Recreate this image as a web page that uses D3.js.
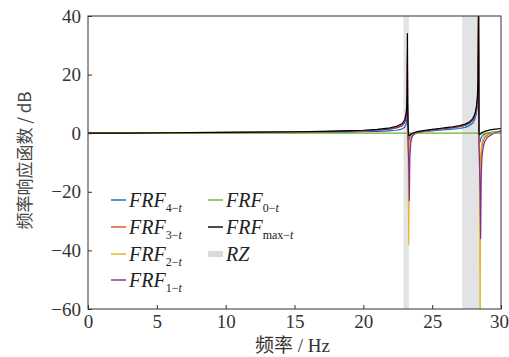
<!DOCTYPE html>
<html>
<head>
<meta charset="utf-8">
<script src="https://cdn.jsdelivr.net/npm/d3@7"></script>
<style>
  body { margin: 0; background: #fff; }
  svg { display: block; }
</style>
</head>
<body>
<svg id="chart"></svg>
<script>
// frequency samples (Hz)
var freq = [0, 3, 6, 9, 12, 15, 17, 19, 20, 21, 21.8, 22.4, 22.8, 23.0, 23.1, 23.15, 23.18, 23.2, 23.22, 23.26,
  23.3, 23.34, 23.38, 23.45, 23.55, 23.7, 24, 24.5, 25, 25.5, 26, 26.5, 27, 27.4, 27.7, 27.95, 28.1, 28.2,
  28.28, 28.33, 28.37, 28.4, 28.44, 28.48, 28.52, 28.56, 28.62, 28.7, 28.8, 29, 29.3, 29.6, 30];

// FRF values (dB)
var frf4 = [0, 0, 0.05, 0.1, 0.15, 0.2, 0.3, 0.4, 0.5, 0.6, 0.8, 1.0, 1.4, 2.0, 3.0, 4.5, 8, 20, 5, -1,
  -3, -2, -1.2, -0.6, -0.2, 0, 0.3, 0.6, 0.8, 1.0, 1.2, 1.4, 1.6, 2.0, 2.6, 3.5, 4.8, 6.5,
  9, 14, 30, -1, -3, -3, -2, -1.5, -1, -0.6, -0.3, 0, 0.3, 0.5, 0.7];
var frf3 = [0, 0.05, 0.1, 0.2, 0.3, 0.4, 0.55, 0.7, 0.85, 1.1, 1.4, 1.9, 2.7, 3.9, 5.5, 8, 12, 28, 6, -2,
  -6, -8, -4, -1.8, -0.8, -0.2, 0.3, 0.8, 1.1, 1.4, 1.6, 1.9, 2.2, 2.7, 3.4, 4.5, 6, 8,
  11, 16, 40, -2, -6, -10, -16, -8, -4.5, -2.8, -1.6, -0.7, 0, 0.4, 0.7];
var frf2 = [0, 0.05, 0.1, 0.2, 0.3, 0.4, 0.5, 0.65, 0.8, 1.0, 1.3, 1.8, 2.5, 3.6, 5, 7.5, 11, 25, 3, -8,
  -38, -6, -2.5, -1.2, -0.5, 0, 0.4, 0.8, 1.1, 1.4, 1.6, 1.9, 2.2, 2.7, 3.4, 4.5, 6, 8,
  11, 16, 40, -3, -12, -80, -12, -5, -3, -1.8, -1, -0.4, 0.1, 0.4, 0.7];
var frf1 = [0, 0.05, 0.1, 0.2, 0.3, 0.4, 0.5, 0.65, 0.8, 1.0, 1.3, 1.8, 2.5, 3.6, 5, 7.5, 11, 25, 2, -5,
  -10, -23, -8, -3, -1.2, -0.3, 0.3, 0.8, 1.1, 1.4, 1.6, 1.9, 2.2, 2.7, 3.4, 4.5, 6, 8,
  11, 16, 40, -4, -10, -20, -36, -15, -8, -5, -3, -1.5, -0.5, 0.2, 0.6];
var frf0 = [0, 0, 0, 0, 0, 0, 0, 0, 0, 0, 0, 0, 0, 0, 0, 0, 0, 0, 0, 0,
  0, 0, 0, 0, 0, 0, 0, 0, 0, 0, 0, 0, 0, 0, 0, 0, 0, 0,
  0, 0, 0, 0, 0, 0, 0, 0, 0, 0, 0, 0, 0, 0, 0];
var frfMax = [0, 0.05, 0.15, 0.25, 0.35, 0.5, 0.65, 0.85, 1.0, 1.3, 1.7, 2.3, 3.2, 4.5, 6.5, 9, 14, 34, 10, 2,
  -0.8, -0.8, -0.6, -0.4, -0.1, 0.2, 0.6, 1.0, 1.3, 1.6, 1.9, 2.2, 2.6, 3.1, 3.8, 5.0, 6.5, 8.5,
  12, 18, 50, 0, -0.5, -0.4, -0.2, 0, 0.2, 0.4, 0.6, 0.9, 1.2, 1.4, 1.6];

// resonance zones (Hz)
var rzStart = [22.92, 27.18];
var rzEnd = [23.3, 28.42];

var xTicks = [0, 5, 10, 15, 20, 25, 30];
var yTicks = [-60, -40, -20, 0, 20, 40];

var series = [
  { sub: "4\u2212", values: frf4, color: "#0072BD" },
  { sub: "3\u2212", values: frf3, color: "#D95319" },
  { sub: "2\u2212", values: frf2, color: "#EDB120" },
  { sub: "1\u2212", values: frf1, color: "#7E2F8E" },
  { sub: "0\u2212", values: frf0, color: "#77AC30" },
  { sub: "max\u2212", values: frfMax, color: "#000000" }
];

var svgWidth = 509, svgHeight = 357;
var margin = { left: 88, right: 8, top: 16, bottom: 48 };
var width = svgWidth - margin.left - margin.right;
var height = svgHeight - margin.top - margin.bottom;
var axisColor = "#333";
var serif = "'Liberation Serif', 'Times New Roman', serif";

var svg = d3.select("#chart").attr("width", svgWidth).attr("height", svgHeight);

var x = d3.scaleLinear().domain([0, 30]).range([0, width]);
var y = d3.scaleLinear().domain([-60, 40]).range([height, 0]);

svg.append("defs").append("clipPath").attr("id", "plotClip")
  .append("rect").attr("width", width).attr("height", height);

var g = svg.append("g").attr("transform", `translate(${margin.left},${margin.top})`);
var plot = g.append("g").attr("clip-path", "url(#plotClip)");

// RZ bands
plot.selectAll("rect.rz")
  .data(d3.range(rzStart.length))
  .enter()
  .append("rect")
  .attr("class", "rz")
  .attr("x", (i) => x(rzStart[i]))
  .attr("width", (i) => x(rzEnd[i]) - x(rzStart[i]))
  .attr("y", 0)
  .attr("height", height)
  .attr("fill", "#e2e3e4");

var line = d3.line()
  .x((d, i) => x(freq[i]))
  .y((d) => y(d));

plot.selectAll("path.frf")
  .data(series)
  .enter()
  .append("path")
  .attr("class", "frf")
  .attr("d", (d) => line(d.values))
  .attr("fill", "none")
  .attr("stroke", (d) => d.color)
  .attr("stroke-width", 1.2)
  .attr("stroke-linejoin", "round");

// axes
var xAxis = d3.axisBottom(x).tickValues(xTicks).tickSize(-4).tickPadding(6).tickFormat(d3.format("d"));
var yAxis = d3.axisLeft(y).tickValues(yTicks).tickSize(-4).tickPadding(7)
  .tickFormat((d) => (d < 0 ? "\u2212" + Math.abs(d) : d));

var xg = g.append("g").attr("transform", `translate(0,${height})`).call(xAxis);
var yg = g.append("g").call(yAxis);
[xg, yg].forEach(function (a) {
  a.select(".domain").remove();
  a.selectAll(".tick line").attr("stroke", axisColor);
  a.selectAll(".tick text").attr("fill", axisColor)
    .style("font-family", serif).style("font-size", "19px");
});
// keep the last x label inside the window
xg.selectAll(".tick text").filter((d) => d === 30).attr("dx", -2);

g.append("rect")
  .attr("width", width)
  .attr("height", height)
  .attr("fill", "none")
  .attr("stroke", axisColor)
  .attr("stroke-width", 1);

// axis titles
svg.append("text")
  .attr("transform", `translate(31,${margin.top + height / 2 - 2}) rotate(-90)`)
  .attr("text-anchor", "middle")
  .attr("fill", "#444")
  .style("font-family", "'Noto Sans CJK SC', sans-serif")
  .style("font-size", "17px")
  .text("频率响应函数 / dB");

var xt = svg.append("text")
  .attr("x", margin.left + width / 2 - 2)
  .attr("y", 352)
  .attr("text-anchor", "middle")
  .attr("fill", axisColor)
  .style("font-size", "19px");
xt.append("tspan").style("font-family", "'Noto Sans CJK SC', sans-serif").text("频率");
xt.append("tspan").style("font-family", serif).text(" / Hz");

// legend
var legendItems = series.map((d) => ({ type: "line", d: d }));
legendItems.push({ type: "rz" });
var legendPos = [
  [111, 200], [111, 227], [111, 254], [111, 280],
  [208, 200], [208, 227], [208, 254]
];

var legend = svg.append("g");
legendItems.forEach(function (item, i) {
  var lg = legend.append("g").attr("transform", `translate(${legendPos[i][0]},${legendPos[i][1]})`);
  if (item.type === "rz") {
    lg.append("rect").attr("x", 0).attr("y", -3).attr("width", 15).attr("height", 6).attr("fill", "#d9dadb");
    lg.append("text").attr("x", 18).attr("y", 7)
      .style("font-family", serif).style("font-style", "italic").style("font-size", "20px")
      .attr("fill", "#222").text("RZ");
    return;
  }
  lg.append("line").attr("x1", 0).attr("x2", 15).attr("y1", 0).attr("y2", 0)
    .attr("stroke", item.d.color).attr("stroke-width", 1.4);
  var t = lg.append("text").attr("x", 18).attr("y", 7)
    .style("font-family", serif).style("font-size", "20px").attr("fill", "#222");
  t.append("tspan").style("font-style", "italic").text("FRF");
  t.append("tspan").attr("dy", 5).style("font-size", "12px").text(item.d.sub);
  t.append("tspan").style("font-size", "12px").style("font-style", "italic").text("t");
});
</script>
</body>
</html>
